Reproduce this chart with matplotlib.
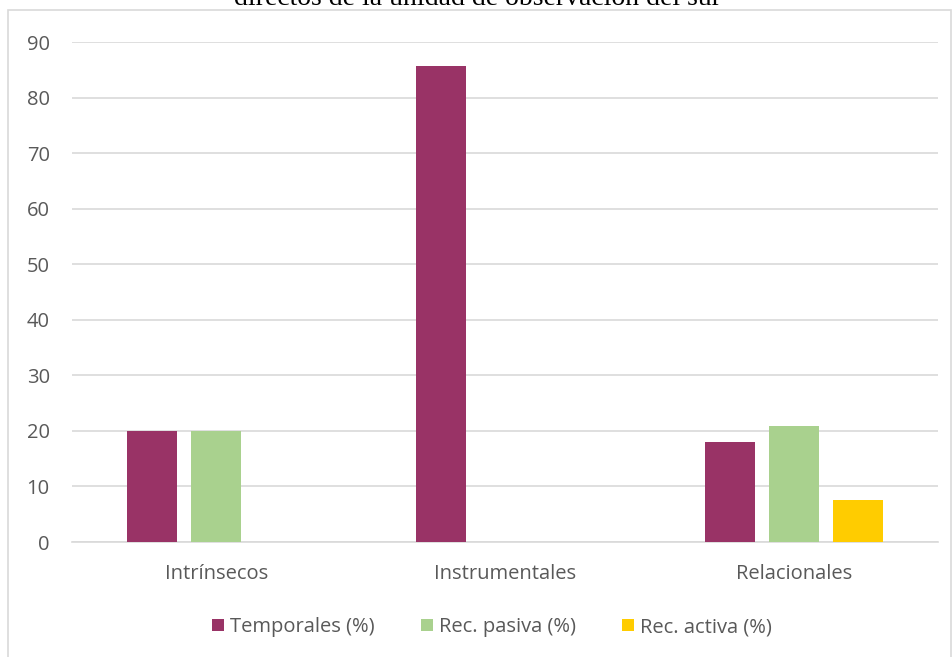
import numpy as np
import matplotlib.pyplot as plt
from matplotlib.patches import Rectangle

# Data
categories = ['Intrínsecos', 'Instrumentales', 'Relacionales']
series_names = ['Temporales (%)', 'Rec. pasiva (%)', 'Rec. activa (%)']
temporales = [20.0, 85.7, 18.0]
rec_pasiva = [20.0, 0.0, 20.9]
rec_activa = [0.0, 0.0, 7.6]
colors = ['#993366', '#A9D18E', '#FFCC00']

W, H = 953, 657
fig = plt.figure(figsize=(W / 100, H / 100), dpi=100)
plt.rcParams['font.family'] = ['Open Sans', 'DejaVu Sans']

# outer chart border
fig.patches.append(Rectangle((8 / W, -0.01), (951 - 8) / W, 1 - 10 / H + 0.01,
                             transform=fig.transFigure, fill=False,
                             edgecolor='#D9D9D9', linewidth=1.2))

# title partially cut at the top
fig.text(478 / W, 1 - 5 / H, 'directos de la unidad de observación del sur',
         ha='center', va='baseline', fontsize=20, family='Liberation Serif',
         color='black')

ax = fig.add_axes([72 / W, 1 - 542 / H, (938 - 72) / W, 500 / H])

x = np.arange(len(categories))
width = 0.173
offsets = [-0.222, 0.0, 0.222]
for vals, off, col, name in zip([temporales, rec_pasiva, rec_activa], offsets, colors, series_names):
    ax.bar(x + off, vals, width, color=col, label=name, zorder=3)

ax.set_xlim(-0.5, 2.5)
ax.set_ylim(0, 90)
ax.set_yticks(range(0, 91, 10))
ax.yaxis.grid(True, color='#D9D9D9', linewidth=1.2, zorder=0)
ax.set_xticks(x)
ax.set_xticklabels(categories)
ax.tick_params(axis='both', length=0, labelsize=14.5, colors='#595959')
ax.tick_params(axis='x', pad=16)
ax.tick_params(axis='y', pad=16)
for s in ['top', 'right', 'left']:
    ax.spines[s].set_visible(False)
ax.spines['bottom'].set_color('#D9D9D9')
ax.spines['bottom'].set_linewidth(1.2)

leg = fig.legend(loc='center', bbox_to_anchor=(492 / W, 1 - 627 / H), ncol=3,
                 frameon=False, fontsize=14.5, handlelength=0.6, handleheight=0.6,
                 handletextpad=0.3, columnspacing=2.3)
for t in leg.get_texts():
    t.set_color('#595959')

fig.savefig('out.png', dpi=100)
